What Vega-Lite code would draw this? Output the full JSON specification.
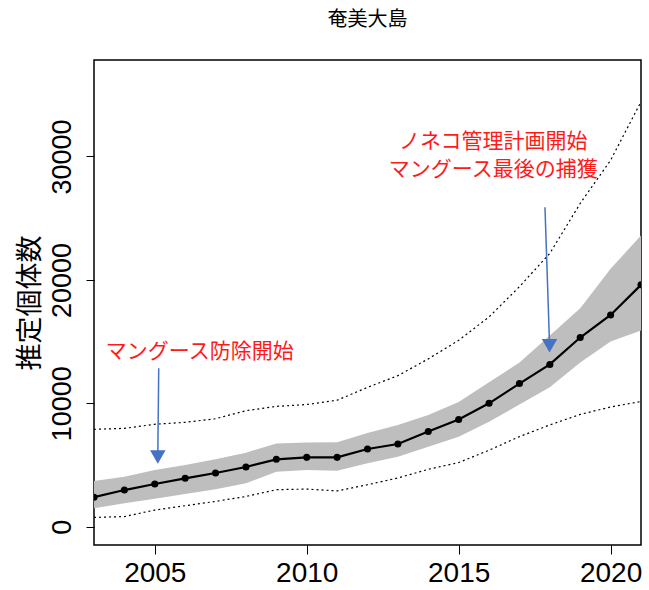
{
  "$schema": "https://vega.github.io/schema/vega-lite/v6.json",
  "width": 547,
  "height": 485,
  "autosize": {"type": "none"},
  "padding": {"left": 94, "top": 60, "right": 8, "bottom": 45},
  "background": "white",
  "title": {"text": "奄美大島", "font": "Noto Sans CJK JP", "fontSize": 20, "fontWeight": "normal", "color": "#000", "anchor": "middle", "frame": "group", "offset": 30},
  "config": {
    "view": {"stroke": "#000", "strokeWidth": 1.5},
    "axis": {"grid": false, "domain": false, "tickColor": "#000", "tickWidth": 1, "labelColor": "#000", "labelFont": "Liberation Sans", "titleColor": "#000"},
    "axisX": {"labelFontSize": 28, "tickSize": 9, "labelPadding": 5},
    "axisY": {"labelFontSize": 27, "tickSize": 8, "labelAngle": -90, "labelAlign": "center", "labelBaseline": "alphabetic", "labelPadding": 16, "titleFont": "Noto Sans CJK JP", "titleFontSize": 27, "titleFontWeight": "normal", "titlePadding": 4}
  },
  "datasets": {
    "est": [
      {"year": 2003, "mean": 2390, "lo": 1490, "hi": 3700, "plo": 750, "phi": 7890},
      {"year": 2004, "mean": 2970, "lo": 1900, "hi": 4050, "plo": 820, "phi": 7970},
      {"year": 2005, "mean": 3460, "lo": 2270, "hi": 4600, "plo": 1350, "phi": 8300},
      {"year": 2006, "mean": 3920, "lo": 2650, "hi": 5000, "plo": 1700, "phi": 8460},
      {"year": 2007, "mean": 4350, "lo": 3030, "hi": 5460, "plo": 2050, "phi": 8750},
      {"year": 2008, "mean": 4840, "lo": 3520, "hi": 6000, "plo": 2450, "phi": 9400},
      {"year": 2009, "mean": 5460, "lo": 4450, "hi": 6750, "plo": 3000, "phi": 9750},
      {"year": 2010, "mean": 5620, "lo": 4590, "hi": 6830, "plo": 3050, "phi": 9900},
      {"year": 2011, "mean": 5620, "lo": 4540, "hi": 6850, "plo": 2900, "phi": 10250},
      {"year": 2012, "mean": 6300, "lo": 5150, "hi": 7600, "plo": 3400, "phi": 11290},
      {"year": 2013, "mean": 6700, "lo": 5670, "hi": 8240, "plo": 3950, "phi": 12240},
      {"year": 2014, "mean": 7720, "lo": 6480, "hi": 9050, "plo": 4650, "phi": 13600},
      {"year": 2015, "mean": 8690, "lo": 7290, "hi": 10100, "plo": 5200, "phi": 15100},
      {"year": 2016, "mean": 10000, "lo": 8500, "hi": 11700, "plo": 6200, "phi": 17000},
      {"year": 2017, "mean": 11600, "lo": 9900, "hi": 13300, "plo": 7300, "phi": 19450},
      {"year": 2018, "mean": 13150, "lo": 11300, "hi": 15500, "plo": 8250, "phi": 22150},
      {"year": 2019, "mean": 15330, "lo": 13300, "hi": 17700, "plo": 9100, "phi": 26200},
      {"year": 2020, "mean": 17160, "lo": 15000, "hi": 20900, "plo": 9700, "phi": 29700},
      {"year": 2021, "mean": 19600, "lo": 15900, "hi": 23600, "plo": 10150, "phi": 34440}
    ],
    "arrows": [
      {"x": 2005.13, "x2": 2005.1, "y": 12840, "y2": 5800},
      {"x": 2017.84, "x2": 2017.99, "y": 25880, "y2": 14800}
    ],
    "heads": [
      {"x": 2005.1, "y": 5650},
      {"x": 2017.99, "y": 14660}
    ],
    "labels": [
      {"x": 2006.48, "y": 14180, "label": "マングース防除開始"},
      {"x": 2016.14, "y": 31200, "label": "ノネコ管理計画開始"},
      {"x": 2016.14, "y": 28910, "label": "マングース最後の捕獲"}
    ]
  },
  "encoding": {
    "x": {"type": "quantitative", "title": null, "scale": {"domain": [2003, 2021], "nice": false, "zero": false}, "axis": {"values": [2005, 2010, 2015, 2020], "format": "d"}},
    "y": {"type": "quantitative", "title": "推定個体数", "scale": {"domain": [-1483, 37820], "nice": false, "zero": false}, "axis": {"values": [0, 10000, 20000, 30000], "format": "d"}}
  },
  "layer": [
    {
      "data": {"name": "est"},
      "mark": {"type": "area", "color": "#BEBEBE", "opacity": 1, "clip": true},
      "encoding": {
        "x": {"field": "year"},
        "y": {"field": "hi"},
        "y2": {"field": "lo"}
      }
    },
    {
      "data": {"name": "est"},
      "mark": {"type": "line", "color": "#000", "strokeWidth": 1.2, "strokeDash": [2, 3], "clip": true},
      "encoding": {
        "x": {"field": "year"},
        "y": {"field": "phi"}
      }
    },
    {
      "data": {"name": "est"},
      "mark": {"type": "line", "color": "#000", "strokeWidth": 1.2, "strokeDash": [2, 3], "clip": true},
      "encoding": {
        "x": {"field": "year"},
        "y": {"field": "plo"}
      }
    },
    {
      "data": {"name": "est"},
      "mark": {"type": "line", "color": "#000", "strokeWidth": 2.2, "clip": true},
      "encoding": {
        "x": {"field": "year"},
        "y": {"field": "mean"}
      }
    },
    {
      "data": {"name": "est"},
      "mark": {"type": "point", "filled": true, "color": "#000", "opacity": 1, "size": 50, "clip": true},
      "encoding": {
        "x": {"field": "year"},
        "y": {"field": "mean"}
      }
    },
    {
      "data": {"name": "arrows"},
      "mark": {"type": "rule", "color": "#4472C4", "strokeWidth": 1.5},
      "encoding": {
        "x": {"field": "x"},
        "x2": {"field": "x2"},
        "y": {"field": "y"},
        "y2": {"field": "y2"}
      }
    },
    {
      "data": {"name": "heads"},
      "mark": {"type": "point", "shape": "triangle-down", "filled": true, "color": "#4472C4", "opacity": 1, "size": 240},
      "encoding": {
        "x": {"field": "x"},
        "y": {"field": "y"}
      }
    },
    {
      "data": {"name": "labels"},
      "mark": {"type": "text", "color": "#FF1A1A", "font": "Noto Sans CJK JP", "fontSize": 21, "align": "center", "baseline": "middle"},
      "encoding": {
        "x": {"field": "x"},
        "y": {"field": "y"},
        "text": {"field": "label"}
      }
    }
  ]
}
